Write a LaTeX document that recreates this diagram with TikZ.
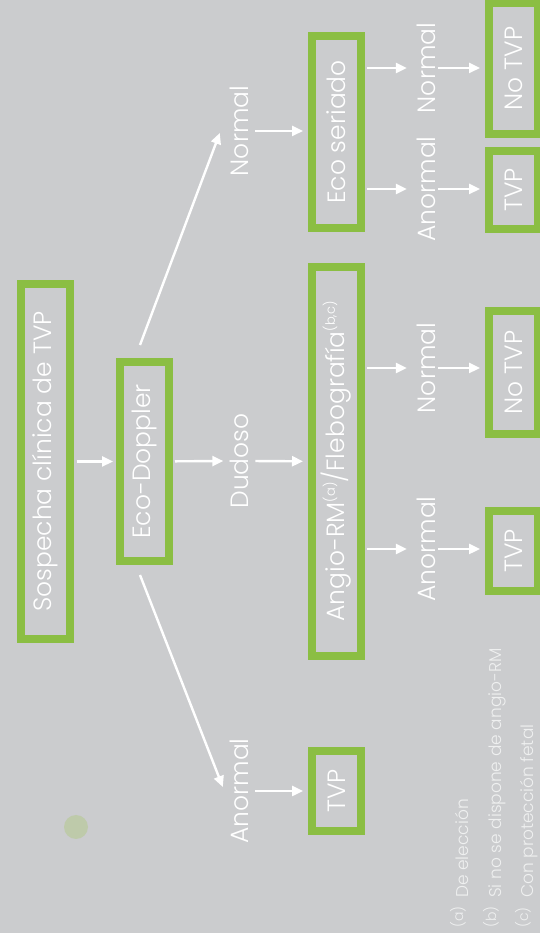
\documentclass[tikz,border=0pt]{standalone}
\usepackage{fontspec}
\setmainfont{Poppins Light}
\usetikzlibrary{arrows.meta}
\definecolor{bg}{RGB}{203,204,206}
\definecolor{boxgreen}{RGB}{139,190,67}
\definecolor{dotgreen}{RGB}{190,202,170}

\begin{document}
\begin{tikzpicture}[x=1pt, y=1pt,
  box/.style={draw=boxgreen, line width=8pt, rotate=90, minimum height=49pt,
    inner sep=0pt, text=white, font=\fontsize{25}{30}\selectfont},
  lbl/.style={rotate=90, anchor=base, inner sep=0pt, text=white,
    font=\fontsize{25}{30}\selectfont},
  arr/.style={draw=white, line width=2.4pt, -{Triangle[length=11pt,width=10pt]}},
  note/.style={rotate=90, anchor=base west, inner sep=0pt, text=white!70!bg,
    font=\fontsize{17}{20}\selectfont}]
  \fill[bg] (0,0) rectangle (540,933);
  \useasboundingbox (0,0) rectangle (540,933);
  \clip (0,0) rectangle (540,933);

  % boxes
  \node[box, minimum width=355pt] (suspect) at (45,471.5) {Sospecha clínica de TVP};
  \node[box, minimum width=199pt] (doppler) at (144.5,471.5) {Eco-Doppler};
  \node[box, minimum width=389pt] (angio) at (336.5,471.5)
    {Angio-RM\raisebox{10pt}{\fontsize{13}{15}\selectfont(a)}/Flebografía\raisebox{10pt}{\fontsize{13}{15}\selectfont(b,c)}};
  \node[box, minimum width=192pt] (seriado) at (336.5,801) {Eco seriado};
  \node[box, minimum width=80pt] (tvpA) at (336.5,142) {TVP};
  \node[box, minimum width=123pt] (notvpB) at (513.5,560.5) {No TVP};
  \node[box, minimum width=80pt] (tvpB) at (513.5,382) {TVP};
  \node[box, minimum width=131pt] (notvpC) at (513.5,864.5) {No TVP};
  \node[box, minimum width=78pt] (tvpC) at (513.5,743) {TVP};

  % labels
  \node[lbl] (dudoso) at (248,472) {Dudoso};
  \node[lbl] (normalA) at (248,802) {Normal};
  \node[lbl] (anormalA) at (248,142) {Anormal};
  \node[lbl] (normalB) at (435,565) {Normal};
  \node[lbl] (anormalB) at (435,384) {Anormal};
  \node[lbl] (normalC) at (435,865) {Normal};
  \node[lbl] (anormalC) at (435,744) {Anormal};

  % arrows
  \draw[arr, shorten <=3pt, shorten >=3pt] (suspect) -- (doppler);
  \draw[arr, shorten <=2pt, shorten >=6pt] (doppler) -- (dudoso.north);
  \draw[arr, shorten <=7pt, shorten >=5pt] (dudoso.south) -- (angio);
  \draw[arr] ([shift={(-4.5pt,13pt)}]doppler.east) -- ([shift={(-9.5pt,-2pt)}]normalA.north);
  \draw[arr] ([shift={(-4.5pt,-10pt)}]doppler.west) -- ([shift={(-6.5pt,4pt)}]anormalA.north);
  \draw[arr, shorten <=7pt, shorten >=5pt] (normalA.south) -- (normalA.south -| seriado.north);
  \draw[arr, shorten <=7pt, shorten >=5pt] (anormalA.south) -- (anormalA.south -| tvpA.north);
  \foreach \src/\lab/\dst in {angio/normalB/notvpB, angio/anormalB/tvpB,
                              seriado/normalC/notvpC, seriado/anormalC/tvpC} {
    \draw[arr, shorten <=2pt, shorten >=9.5pt] (\src.south |- \lab.north) -- (\lab.north);
    \draw[arr, shorten <=3pt, shorten >=5pt] (\lab.south) -- (\lab.south -| \dst.north);
  }

  \fill[dotgreen] (76,106) circle (12);

  % notes
  \node[note] (fna) at (468,5) {\makebox[30pt][l]{\raisebox{5pt}{\fontsize{14}{16}\selectfont(a)}}De elección};
  \node[note] (fnb) at (501,5) {\makebox[30pt][l]{\raisebox{5pt}{\fontsize{14}{16}\selectfont(b)}}Si no se dispone de angio-RM};
  \node[note] (fnc) at (533,5) {\makebox[30pt][l]{\raisebox{5pt}{\fontsize{14}{16}\selectfont(c)}}Con protección fetal};
\end{tikzpicture}
\end{document}
